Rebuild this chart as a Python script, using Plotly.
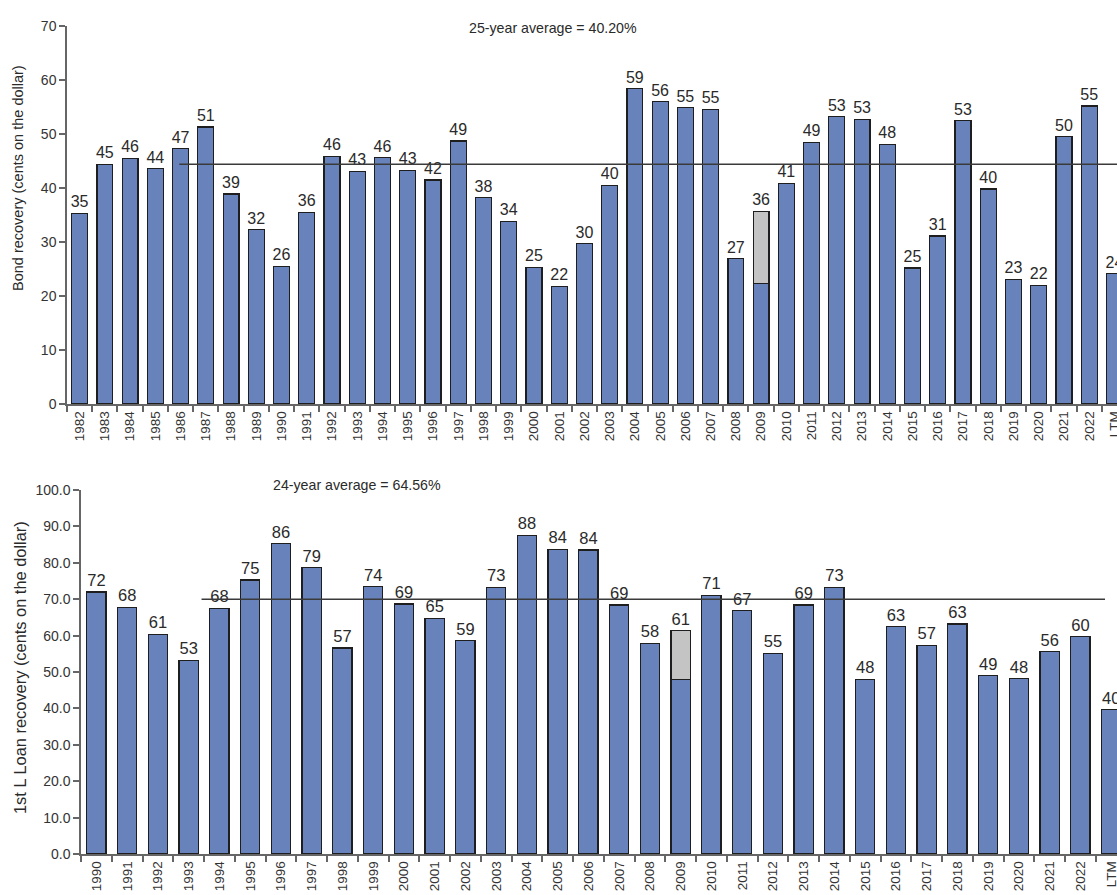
import plotly.graph_objects as go

# ---------------- data ----------------
bond_years = [str(y) for y in range(1982, 2023)] + ["LTM"]
bond_values = [35.3, 44.4, 45.5, 43.6, 47.3, 51.3, 38.9, 32.3, 25.5, 35.5,
               45.9, 43.1, 45.6, 43.3, 41.5, 48.7, 38.2, 33.8, 25.3, 21.8,
               29.7, 40.5, 58.4, 56.0, 54.9, 54.6, 26.9, 22.3, 40.9, 48.5,
               53.2, 52.7, 48.1, 25.2, 31.1, 52.5, 39.8, 23.1, 22.0, 49.5,
               55.2, 24.1]
bond_labels = ["35", "45", "46", "44", "47", "51", "39", "32", "26", "36",
               "46", "43", "46", "43", "42", "49", "38", "34", "25", "22",
               "30", "40", "59", "56", "55", "55", "27", "", "41", "49",
               "53", "53", "48", "25", "31", "53", "40", "23", "22", "50",
               "55", "24"]
bond_extra_year = "2009"
bond_extra_top = 35.7
bond_extra_label = "36"
bond_avg_line = 44.4
bond_avg_text = "25-year average = 40.20%"

loan_years = [str(y) for y in range(1990, 2023)] + ["LTM"]
loan_values = [72.0, 67.8, 60.4, 53.2, 67.5, 75.3, 85.3, 78.7, 56.6, 73.4,
               68.7, 64.8, 58.6, 73.3, 87.6, 83.7, 83.5, 68.4, 57.9, 48.0,
               71.1, 66.8, 55.1, 68.4, 73.3, 48.0, 62.5, 57.3, 63.2, 49.0,
               48.2, 55.6, 59.7, 39.6]
loan_labels = ["72", "68", "61", "53", "68", "75", "86", "79", "57", "74",
               "69", "65", "59", "73", "88", "84", "84", "69", "58", "",
               "71", "67", "55", "69", "73", "48", "63", "57", "63", "49",
               "48", "56", "60", "40"]
loan_extra_year = "2009"
loan_extra_top = 61.3
loan_extra_label = "61"
loan_avg_line = 70.0
loan_avg_text = "24-year average = 64.56%"

# ---------------- style ----------------
W, H = 1117, 895
FONT = "Liberation Sans, Arial, sans-serif"
BLUE = "#6882BB"
GREY = "#C4C4C4"
EDGE = "#1E1E1E"
AXC = "#666666"
TXT = "#2A2A2A"

def px_x(p):
    return p / W

def px_y(p):
    return 1 - p / H

fig = go.Figure()

def add_bars(xs, ys, texts, color, xa, ya, size):
    fig.add_trace(go.Bar(
        x=xs, y=ys, text=texts, textposition="outside", constraintext="none",
        textfont=dict(family=FONT, size=size, color=TXT),
        marker=dict(color=color, line=dict(color=EDGE, width=1.2)),
        xaxis=xa, yaxis=ya, showlegend=False, cliponaxis=True,
    ))

# top panel
add_bars(bond_years, bond_values, bond_labels, BLUE, "x", "y", 16)
b_idx = bond_years.index(bond_extra_year)
add_bars([bond_extra_year], [bond_extra_top - bond_values[b_idx]],
         [bond_extra_label], GREY, "x", "y", 16)

# bottom panel
add_bars(loan_years, loan_values, loan_labels, BLUE, "x2", "y2", 16.5)
l_idx = loan_years.index(loan_extra_year)
add_bars([loan_extra_year], [loan_extra_top - loan_values[l_idx]],
         [loan_extra_label], GREY, "x2", "y2", 16.5)

xtickfont = dict(family=FONT, size=13.5, color="#333333")
ytickfont = dict(family=FONT, size=14, color="#333333")
xcommon = dict(type="category", tickangle=-90, tickson="boundaries",
               ticks="outside", ticklen=6, tickcolor=AXC, tickwidth=1.5,
               showline=True, linecolor=AXC, linewidth=1.5, showgrid=False,
               tickfont=xtickfont, automargin=False, fixedrange=True)
ycommon = dict(ticks="outside", ticklen=6, tickcolor=AXC, tickwidth=1.5,
               showline=True, linecolor=AXC, linewidth=1.5, showgrid=False,
               zeroline=False, tickfont=ytickfont, automargin=False)

fig.update_layout(
    width=W, height=H,
    margin=dict(l=0, r=0, t=0, b=0),
    paper_bgcolor="white", plot_bgcolor="white",
    barmode="stack", bargap=0.37,
    font=dict(family=FONT, color=TXT),
    xaxis=dict(domain=[px_x(67), 1], range=[-0.5, 41.1], anchor="y", **xcommon),
    yaxis=dict(domain=[px_y(404), px_y(26)], range=[0, 70], dtick=10,
               anchor="x", **ycommon),
    xaxis2=dict(domain=[px_x(81), 1], range=[-0.5, 33.19], anchor="y2", **xcommon),
    yaxis2=dict(domain=[px_y(854), px_y(490)], range=[0, 100], dtick=10,
                tickformat=".1f", anchor="x2", **ycommon),
    showlegend=False,
)

# average lines
fig.add_shape(type="line", xref="x", yref="y", x0=3.95, x1=41.1,
              y0=bond_avg_line, y1=bond_avg_line,
              line=dict(color="#3A3A3A", width=1.6))
fig.add_shape(type="line", xref="x2", yref="y2", x0=3.42, x1=32.8,
              y0=loan_avg_line, y1=loan_avg_line,
              line=dict(color="#3A3A3A", width=1.6))

# annotations
fig.add_annotation(text=bond_avg_text, xref="paper", yref="paper",
                   x=px_x(553), y=px_y(28), showarrow=False,
                   font=dict(family=FONT, size=14.2, color=TXT),
                   xanchor="center", yanchor="middle")
fig.add_annotation(text=loan_avg_text, xref="paper", yref="paper",
                   x=px_x(357), y=px_y(485), showarrow=False,
                   font=dict(family=FONT, size=14.2, color=TXT),
                   xanchor="center", yanchor="middle")
fig.add_annotation(text="Bond recovery (cents on the dollar)", xref="paper",
                   yref="paper", x=px_x(18), y=px_y(178), textangle=-90,
                   showarrow=False, font=dict(family=FONT, size=14.5, color=TXT),
                   xanchor="center", yanchor="middle")
fig.add_annotation(text="1st L Loan recovery (cents on the dollar)", xref="paper",
                   yref="paper", x=px_x(20), y=px_y(668), textangle=-90,
                   showarrow=False, font=dict(family=FONT, size=16.4, color=TXT),
                   xanchor="center", yanchor="middle")

fig.write_html("out.html")
